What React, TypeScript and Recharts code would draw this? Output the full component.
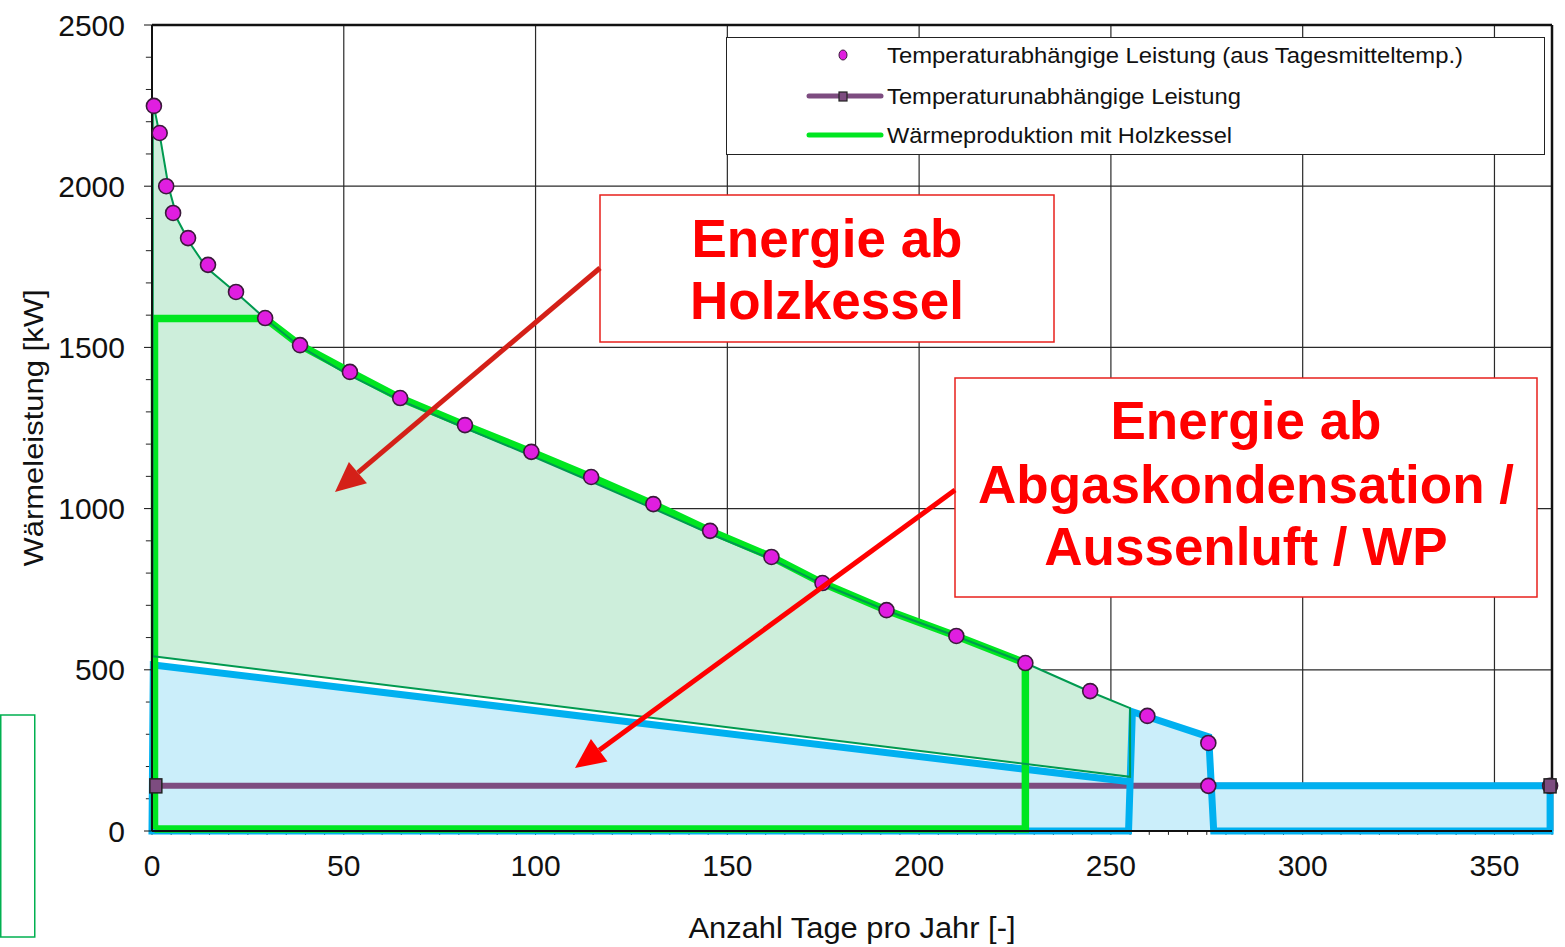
import React from 'react';
import {
  ComposedChart,
  Area,
  Line,
  Scatter,
  XAxis,
  YAxis,
  CartesianGrid,
  ReferenceLine,
  Legend,
} from 'recharts';

const FONT = '"Liberation Sans", Arial, sans-serif';

// axis ticks
const X_TICKS = [0, 50, 100, 150, 200, 250, 300, 350];
const Y_TICKS = [0, 500, 1000, 1500, 2000, 2500];
const X_MINOR = Array.from({ length: 74 }, (_, i) => i * 5);
const Y_MINOR = Array.from({ length: 26 }, (_, i) => i * 100).filter((v) => v % 500 !== 0);

// Temperaturabhängige Leistung (Tagesmittel) [Tage, kW]
const tempPoints = [
  [0.5, 2249], [2, 2165], [3.7, 2000], [5.5, 1917], [9.4, 1839], [14.6, 1756],
  [21.9, 1672], [29.5, 1591], [38.6, 1507], [51.6, 1424], [64.7, 1343], [81.6, 1259],
  [98.9, 1176], [114.5, 1098], [130.7, 1014], [145.5, 931], [161.5, 850], [174.8, 769],
  [191.5, 685], [209.7, 605], [227.7, 521], [244.6, 434], [259.5, 357], [275.4, 273],
  [275.4, 140], [364.5, 140],
];

// Temperaturunabhängige Leistung
const baseLoad = [[1, 140], [364.5, 140]];

// Holzkessel-Energie: Umriss (dünne Linie) und Fläche
const woodCurve = [
  [0.2, 2265], [2.1, 2153], [4.3, 1999], [6.7, 1895], [9.9, 1823], [14.3, 1746],
  [22.1, 1668], [29.9, 1585], [38.6, 1503], [50.8, 1418], [64.7, 1336], [81.6, 1250],
  [98.9, 1164], [114.5, 1084], [130.7, 1000], [145.5, 922], [161.5, 843], [174.8, 766],
  [191.5, 684], [209.7, 604], [227.7, 521], [244.6, 432], [255, 381],
];
const woodLower = [[0.8, 541], [255, 168]];
const woodOutline = [...woodCurve, [255, 168], [0.8, 541], [0.2, 541], [0.2, 2265]];

// Wärmeproduktion mit Holzkessel
const boilerPath = [
  [0.65, 6], [0.65, 1590], [29.5, 1590], [38.6, 1507], [51.6, 1424], [64.7, 1343],
  [81.6, 1259], [98.9, 1176], [114.5, 1098], [130.7, 1014], [145.5, 931], [161.5, 850],
  [174.8, 769], [191.5, 685], [209.7, 605], [227.7, 521], [227.7, 6], [0.65, 6],
];

// Abgaskondensation / Aussenluft / WP
const heatPumpFill = [
  [0.35, 515], [255.05, 152.6], [255.6, 370], [275.5, 292], [276.4, 140], [364.5, 140],
];
const heatPumpPath = [
  [255.05, 152.6], [0.35, 515], [0, 0], [254.6, 0], [255.6, 370], [275.5, 292],
  [276.8, 0], [364.5, 0], [364.5, 140], [276.4, 140],
];

const pts = (pairs: number[][]) => pairs.map(([x, y]) => ({ x, y }));

const MAGENTA = '#e01ee0';
const PURPLE = '#7d4c80';
const BRIGHT_GREEN = '#00e620';
const DARK_GREEN = '#009a50';
const BLUE = '#00b0f0';

const MagentaDot = (p: any) => (
  <circle cx={p.cx} cy={p.cy} r={7.5} fill={MAGENTA} stroke="#3b1a3b" strokeWidth={1.6} />
);

const PurpleSquare = (p: any) => (
  <rect key={p.index} x={p.cx - 6} y={p.cy - 7} width={12} height={14} fill={PURPLE} stroke="#222" strokeWidth={1.5} />
);

const XTitle = (p: any) => {
  const vb = p.viewBox;
  return (
    <text x={vb.x + vb.width / 2} y={vb.y + 107} textAnchor="middle" fontSize={29} fill="#111"
      textLength={327} lengthAdjust="spacingAndGlyphs" fontFamily={FONT}>
      Anzahl Tage pro Jahr [-]
    </text>
  );
};

const YTitle = (p: any) => {
  const vb = p.viewBox;
  const cx = 33;
  const cy = vb.y + vb.height / 2;
  return (
    <text x={cx} y={cy + 10} transform={`rotate(-90, ${cx}, ${cy})`} textAnchor="middle" fontSize={28}
      fill="#111" textLength={277} lengthAdjust="spacingAndGlyphs" fontFamily={FONT}>
      Wärmeleistung [kW]
    </text>
  );
};

const LegendBox = () => (
  <div style={{ width: 819, height: 118, boxSizing: 'border-box', border: '1.5px solid #222', background: '#fff' }}>
    <svg width={816} height={115} style={{ display: 'block' }} fontFamily={FONT}>
      <ellipse cx={116} cy={17} rx={4} ry={5} fill={MAGENTA} stroke="#3b1a3b" strokeWidth={1} />
      <text x={160} y={25} fontSize={22} fill="#111" textLength={576} lengthAdjust="spacingAndGlyphs">
        Temperaturabhängige Leistung (aus Tagesmitteltemp.)
      </text>
      <line x1={82} y1={58} x2={154} y2={58} stroke={PURPLE} strokeWidth={5} strokeLinecap="round" />
      <rect x={112} y={54} width={8} height={9} fill={PURPLE} stroke="#222" strokeWidth={1.2} />
      <text x={160} y={66} fontSize={22} fill="#111" textLength={354} lengthAdjust="spacingAndGlyphs">
        Temperaturunabhängige Leistung
      </text>
      <line x1={82} y1={97} x2={154} y2={97} stroke={BRIGHT_GREEN} strokeWidth={5} strokeLinecap="round" />
      <text x={160} y={105} fontSize={22} fill="#111" textLength={345} lengthAdjust="spacingAndGlyphs">
        Wärmeproduktion mit Holzkessel
      </text>
    </svg>
  </div>
);

function Arrow({ x1, y1, x2, y2, color }: { x1: number; y1: number; x2: number; y2: number; color: string }) {
  const dx = x2 - x1;
  const dy = y2 - y1;
  const len = Math.hypot(dx, dy);
  const ux = dx / len;
  const uy = dy / len;
  const bx = x2 - 30 * ux;
  const by = y2 - 30 * uy;
  const nx = -uy;
  const ny = ux;
  return (
    <g>
      <line x1={x1} y1={y1} x2={bx} y2={by} stroke={color} strokeWidth={5} />
      <polygon points={`${x2},${y2} ${bx + 14 * nx},${by + 14 * ny} ${bx - 14 * nx},${by - 14 * ny}`} fill={color} />
    </g>
  );
}

export default function App() {
  const red = '#ff0000';
  const txt = { fontFamily: FONT, fontWeight: 700, fontSize: 53, fill: red, textAnchor: 'middle' as const };
  return (
    <div style={{ position: 'absolute', left: 0, top: 0, width: 1565, height: 947, background: '#fff', fontFamily: FONT }}>
      <ComposedChart width={1565} height={947} margin={{ top: 25, right: 13, left: 0, bottom: 0 }}>
        <XAxis type="number" dataKey="x" domain={[0, 365]} ticks={X_TICKS} interval={0}
          tickLine={false} tickSize={0} tickMargin={24} height={116}
          axisLine={{ stroke: '#111', strokeWidth: 2 }} tick={{ fontSize: 30, fill: '#111' }} label={XTitle} />
        <YAxis type="number" dataKey="y" domain={[0, 2500]} ticks={Y_TICKS} interval={0}
          tickSize={8} tickMargin={19} width={152} tickLine={{ stroke: '#111' }}
          axisLine={{ stroke: '#111', strokeWidth: 2 }} tick={{ fontSize: 30, fill: '#111' }} label={YTitle} />

        <Area data={pts(woodCurve)} dataKey="y" type="linear" stroke="none" fill="#cdeedb" fillOpacity={1}
          isAnimationActive={false} dot={false} activeDot={false} />
        <Area data={pts(woodLower)} dataKey="y" type="linear" stroke="none" fill="#ffffff" fillOpacity={1}
          isAnimationActive={false} dot={false} activeDot={false} />
        <Area data={pts(heatPumpFill)} dataKey="y" type="linear" stroke="none" fill="#cbeefa" fillOpacity={1}
          isAnimationActive={false} dot={false} activeDot={false} />

        <CartesianGrid stroke="#2a2a2a" strokeWidth={1.2} />
        <ReferenceLine y={2500} stroke="#111" strokeWidth={2.5} />
        <ReferenceLine x={365} stroke="#111" strokeWidth={2.5} />

        {/* minor ticks */}
        {X_MINOR.map((v) => (
          <ReferenceLine key={`mx${v}`} segment={[{ x: v, y: 0 }, { x: v, y: -12 }]} ifOverflow="visible"
            stroke="#222" strokeWidth={1} />
        ))}
        {Y_MINOR.map((v) => (
          <ReferenceLine key={`my${v}`} segment={[{ x: 0, y: v }, { x: -1.6, y: v }]} ifOverflow="visible"
            stroke="#222" strokeWidth={1} />
        ))}

        <Line data={pts(baseLoad)} dataKey="y" type="linear" stroke={PURPLE} strokeWidth={6}
          dot={PurpleSquare} activeDot={false} isAnimationActive={false} />
        <Line data={pts(heatPumpPath)} dataKey="y" type="linear" stroke={BLUE} strokeWidth={7}
          strokeLinejoin="miter" dot={false} activeDot={false} isAnimationActive={false} />
        <Line data={pts(boilerPath)} dataKey="y" type="linear" stroke={BRIGHT_GREEN} strokeWidth={7.5}
          strokeLinejoin="miter" dot={false} activeDot={false} isAnimationActive={false} />
        <Line data={pts(woodOutline)} dataKey="y" type="linear" stroke={DARK_GREEN} strokeWidth={2}
          dot={false} activeDot={false} isAnimationActive={false} />
        <Scatter data={pts(tempPoints)} dataKey="y" shape={MagentaDot} isAnimationActive={false} />

        <Legend layout="horizontal" verticalAlign="middle" align="center" content={LegendBox}
          wrapperStyle={{ left: 726, top: 37, width: 819, height: 118 }} />
      </ComposedChart>

      <svg width={1565} height={947} style={{ position: 'absolute', left: 0, top: 0, pointerEvents: 'none' }}>
        <rect x={0.75} y={715} width={34} height={222} fill="none" stroke="#00b050" strokeWidth={1.5} />
        <rect x={600} y={195} width={454} height={147} fill="#fff" stroke="#e8201c" strokeWidth={1.5} />
        <text x={827} y={257} {...txt}>Energie ab</text>
        <text x={827} y={319} {...txt}>Holzkessel</text>
        <rect x={955} y={378} width={582} height={219} fill="#fff" stroke="#e8201c" strokeWidth={1.5} />
        <text x={1246} y={439} {...txt}>Energie ab</text>
        <text x={1246} y={503} {...txt}>Abgaskondensation /</text>
        <text x={1246} y={565} {...txt}>Aussenluft / WP</text>
        <Arrow x1={600} y1={268} x2={335} y2={492} color="#d42018" />
        <Arrow x1={955} y1={490} x2={575} y2={768} color={red} />
      </svg>
    </div>
  );
}
